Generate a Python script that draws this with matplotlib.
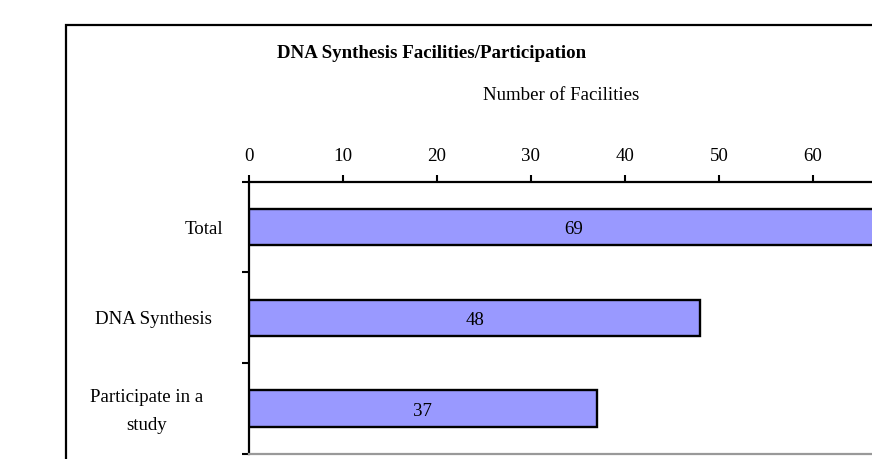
import matplotlib
matplotlib.use("Agg")
import matplotlib.pyplot as plt
from matplotlib.patches import Rectangle

# Data
categories = ["Total", "DNA Synthesis", "Participate in a\nstudy"]
facilities = [69, 48, 37]
x_ticks = [0, 10, 20, 30, 40, 50, 60]

plt.rcParams["font.family"] = ["Liberation Serif", "DejaVu Serif"]
FS = 13.6

W, H = 872, 459
fig = plt.figure(figsize=(W / 100, H / 100), dpi=100)
fig.patch.set_facecolor("white")

def fx(px):
    return px / W

def fy(py):
    return 1 - py / H

# Outer chart frame (extends past the canvas on the right and bottom)
fig.add_artist(Rectangle((fx(66), fy(480)), 1.0, fy(25) - fy(480),
                         transform=fig.transFigure, fill=False,
                         edgecolor="black", linewidth=1.6, zorder=0))

left, right, top, bottom = 249, 907, 181.7, 454
ax = fig.add_axes([fx(left), fy(bottom), fx(right - left), fy(top) - fy(bottom)])

ypos = [i + 0.5 for i in range(len(categories))]
bars = ax.barh(ypos, facilities, height=0.4, color="#9999FF",
               edgecolor="black", linewidth=1.7, zorder=3)

for y, v in zip(ypos, facilities):
    ax.text(v / 2, y + 0.03, str(v), ha="center", va="center", fontsize=FS, zorder=4)

ax.set_xlim(0, 70)
ax.set_ylim(len(categories), 0)

ax.xaxis.tick_top()
ax.set_xticks(x_ticks)
ax.set_xticklabels([str(t) for t in x_ticks], fontsize=FS)
ax.tick_params(axis="x", direction="out", length=5, width=1.5, pad=7,
               top=True, bottom=False)

ax.set_yticks(range(len(categories) + 1))
ax.set_yticklabels([])
ax.tick_params(axis="y", direction="out", length=5, width=1.5)

# Category labels
label_pos = [(204, 0.5, -2), (153, 1.5, -2), (147, 2.5, -3)]
for (px, y, dy), text in zip(label_pos, categories):
    ax.annotate(text, xy=(0, y), xycoords="data",
                xytext=(px - left, dy), textcoords="offset pixels",
                ha="center", va="center", fontsize=FS, linespacing=1.85)

for side in ("top", "left"):
    ax.spines[side].set_linewidth(1.6)
    ax.spines[side].set_color("black")
ax.spines["right"].set_visible(False)
ax.spines["bottom"].set_color("#999999")
ax.spines["bottom"].set_linewidth(1.6)

ax.text((561 - left) / (right - left), 1 + (top - 95) / (bottom - top),
        "Number of Facilities", transform=ax.transAxes,
        ha="center", va="center", fontsize=FS)

fig.text(fx(432), fy(53), "DNA Synthesis Facilities/Participation",
         ha="center", va="center", fontsize=FS, fontweight="bold")

fig.savefig("out.png", dpi=100)
